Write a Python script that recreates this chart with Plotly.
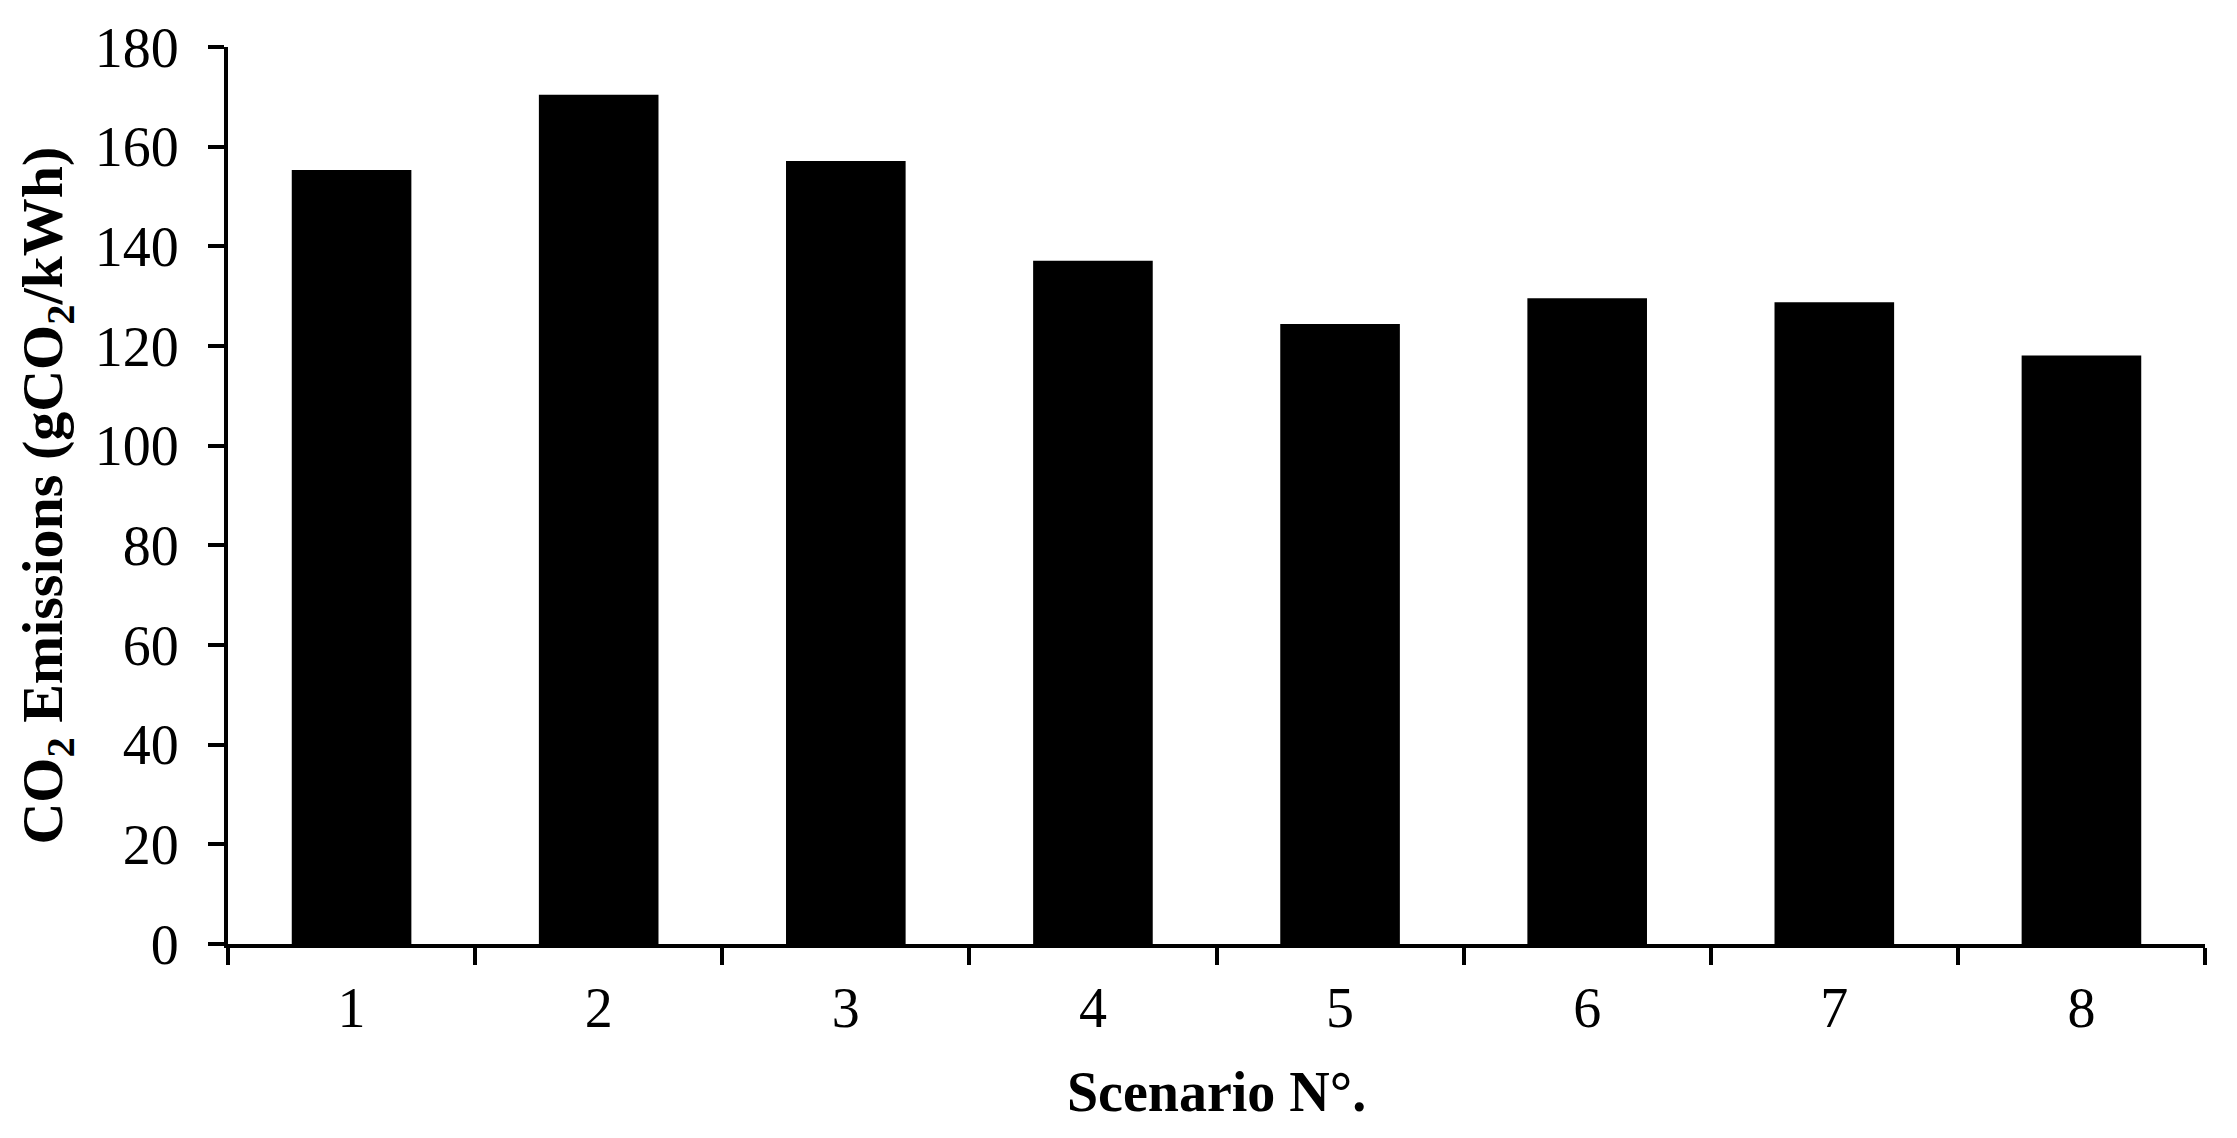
import plotly.graph_objects as go

scenarios = ['1', '2', '3', '4', '5', '6', '7', '8']
co2_emissions = [155.3, 170.4, 157.1, 137.1, 124.4, 129.6, 128.8, 118.1]

y_ticks = list(range(0, 181, 20))
y_title = '<b>CO<sub>2</sub> Emissions (gCO<sub>2</sub>/kWh)</b>'

fig = go.Figure()
fig.add_trace(go.Bar(x=scenarios, y=co2_emissions, marker=dict(color='black', line=dict(width=0))))

# page has an 8px body margin, so margins are shifted to land the axes where the reference has them
fig.update_layout(
    width=2237, height=1138,
    margin=dict(l=220, r=40, t=39, b=202),
    plot_bgcolor='white', paper_bgcolor='white',
    font=dict(family='Liberation Serif', size=56, color='black'),
    bargap=0.516,
    showlegend=False,
)
fig.update_xaxes(
    type='category', automargin=False,
    showline=True, linecolor='black', linewidth=4,
    ticks='outside', tickson='boundaries', ticklen=17, tickwidth=4, tickcolor='black',
    ticklabelstandoff=12,
    showgrid=False,
    title=dict(text='<b>Scenario N°.</b>', font=dict(size=56), standoff=35),
)
fig.update_yaxes(
    range=[0, 180], tickvals=y_ticks, automargin=False,
    showline=True, linecolor='black', linewidth=4,
    ticks='outside', ticklen=16, tickwidth=4, tickcolor='black',
    ticklabelstandoff=18,
    showgrid=False, zeroline=False,
)

# y title as a rotated annotation so it sits further left than the axis title allows
fig.add_annotation(
    text=y_title, textangle=-90, showarrow=False,
    xref='paper', yref='paper', x=-0.092, y=0.5,
    xanchor='center', yanchor='middle',
    font=dict(size=58),
)

fig.write_html("out.html")
